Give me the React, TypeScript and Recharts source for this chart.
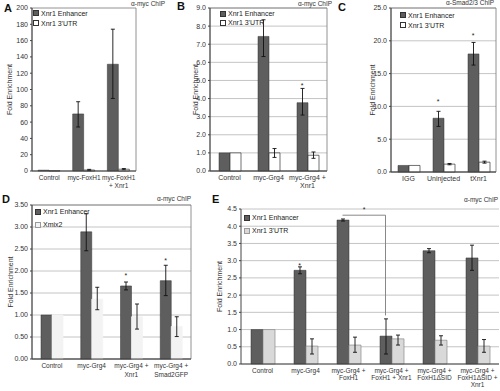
import React from "react";
import {
    BarChart,
    Bar,
    XAxis,
    YAxis,
    CartesianGrid,
    ErrorBar,
    ReferenceArea,
    ReferenceDot,
    ReferenceLine,
} from "recharts";

// ---- panel A: a-myc ChIP, myc-FoxH1 ----
const catsA = ["Control", "myc-FoxH1", "myc-FoxH1\n+ Xnr1"];
const enhA = [1, 70, 131];
const enhErrA: ([number, number] | null)[] = [null, [54, 85], [89, 174]];
const utrA = [0.3, 1.2, 2.2];
const utrErrA: ([number, number] | null)[] = [null, [0.5, 2], [1.5, 3]];
const starsA: (number | null)[] = [null, null, null];
const ticksA = [0, 20, 40, 60, 80, 100, 120, 140, 160, 180, 200];

// ---- panel B: a-myc ChIP, myc-Grg4 ----
const catsB = ["Control", "myc-Grg4", "myc-Grg4 +\nXnr1"];
const enhB = [1, 7.43, 3.77];
const enhErrB: ([number, number] | null)[] = [null, [6.32, 8.35], [3.09, 4.56]];
const utrB = [1, 1.0, 0.87];
const utrErrB: ([number, number] | null)[] = [null, [0.75, 1.24], [0.7, 1.05]];
const starsB: (number | null)[] = [null, null, 4.75];
const ticksB = [0, 1, 2, 3, 4, 5, 6, 7, 8, 9];

// ---- panel C: a-Smad2/3 ChIP ----
const catsC = ["IGG", "Uninjected", "tXnr1"];
const enhC = [1.0, 8.2, 18.0];
const enhErrC: ([number, number] | null)[] = [null, [6.95, 9.25], [16.3, 19.75]];
const utrC = [1.0, 1.2, 1.5];
const utrErrC: ([number, number] | null)[] = [null, [1.1, 1.3], [1.35, 1.65]];
const starsC: (number | null)[] = [null, 10.8, 20.9];
const ticksC = [0, 5, 10, 15, 20, 25];

// ---- panel D: a-myc ChIP, Xmix2 ----
const catsD = ["Control", "myc-Grg4", "myc-Grg4 +\nXnr1", "myc-Grg4 +\nSmad2GFP"];
const enhD = [1.0, 2.89, 1.66, 1.78];
const enhErrD: ([number, number] | null)[] = [null, [2.46, 3.3], [1.57, 1.75], [1.44, 2.13]];
const mixD = [1.0, 1.36, 0.96, 0.74];
const mixErrD: ([number, number] | null)[] = [null, [1.12, 1.63], [0.68, 1.25], [0.51, 0.96]];
const starsD: (number | null)[] = [null, null, 1.91, 2.25];
const ticksD = [0, 0.5, 1, 1.5, 2, 2.5, 3, 3.5];

// ---- panel E: a-myc ChIP, FoxH1 / FoxH1ΔSID ----
const catsE = [
    "Control",
    "myc-Grg4",
    "myc-Grg4 +\nFoxH1",
    "myc-Grg4 +\nFoxH1 + Xnr1",
    "myc-Grg4 +\nFoxH1ΔSID",
    "myc-Grg4 +\nFoxH1ΔSID +\nXnr1",
];
const enhE = [1.0, 2.72, 4.18, 0.81, 3.29, 3.08];
const enhErrE: ([number, number] | null)[] = [null, [2.62, 2.82], [4.15, 4.21], [0.29, 1.31], [3.23, 3.35], [2.72, 3.45]];
const utrE = [1.0, 0.52, 0.55, 0.73, 0.69, 0.52];
const utrErrE: ([number, number] | null)[] = [null, [0.29, 0.73], [0.34, 0.78], [0.55, 0.84], [0.55, 0.82], [0.34, 0.71]];
const starsE: (number | null)[] = [null, 2.87, null, null, null, null];
const ticksE = [0, 0.5, 1, 1.5, 2, 2.5, 3, 3.5, 4, 4.5];
const bracketE = { from: 2, to: 3, top: 4.32, bottom: 1.41 };

const FONT = "'Liberation Sans', Arial, sans-serif";
const DARK = "#5e5e5e";

function buildRows(
    cats: string[],
    a: number[],
    aErr: ([number, number] | null)[],
    b: number[],
    bErr: ([number, number] | null)[]
) {
    return cats.map((c, i) => ({
        cat: c,
        a: a[i],
        aErr: aErr[i] ? [a[i] - aErr[i]![0], aErr[i]![1] - a[i]] : null,
        b: b[i],
        bErr: bErr[i] ? [b[i] - bErr[i]![0], bErr[i]![1] - b[i]] : null,
    }));
}

function MultiTick({ x, y, payload, gap, size }: any) {
    const lines = String(payload.value).split("\n");
    return (
        <text x={x} y={y} textAnchor="middle" fontSize={size} fill="#333" fontFamily={FONT}>
            {lines.map((l, i) => (
                <tspan key={i} x={x} dy={i === 0 ? 7 : gap}>
                    {l}
                </tspan>
            ))}
        </text>
    );
}

interface LegendItem {
    label: string;
    fill: string;
    stroke: string;
}

function LegendBox({ items, lineH, x, y }: { items: LegendItem[]; lineH: number; x: number; y: number }) {
    return (
        <div style={{ position: "absolute", left: x, top: y, fontFamily: FONT, fontSize: 7, color: "#222", whiteSpace: "nowrap" }}>
            {items.map((it) => (
                <div key={it.label} style={{ height: lineH, display: "flex", alignItems: "center" }}>
                    <span
                        style={{
                            display: "inline-block",
                            width: 4,
                            height: 4,
                            background: it.fill,
                            border: `1px solid ${it.stroke}`,
                            marginRight: 2,
                        }}
                    />
                    {it.label}
                </div>
            ))}
        </div>
    );
}

interface PanelProps {
    left: number;
    top: number;
    width: number;
    height: number;
    margin: { top: number; right: number; bottom: number; left: number };
    yWidth: number;
    xHeight: number;
    cats: string[];
    rows: any[];
    ticks: number[];
    digits: number;
    barSize: number;
    stars: (number | null)[];
    frame: boolean;
    grid: boolean;
    fillB: string;
    strokeB: string;
    legend: LegendItem[];
    legendPos: { top: number; left: number };
    legendLineH: number;
    titleOffset: number;
    tickGap: number;
    tickFont: number;
    children?: React.ReactNode;
}

function Panel(p: PanelProps) {
    const max = p.ticks[p.ticks.length - 1];
    return (
        <div style={{ position: "absolute", left: p.left, top: p.top, width: p.width, height: p.height }}>
            <BarChart
                width={p.width}
                height={p.height}
                data={p.rows}
                margin={p.margin}
                barGap={0}
                barSize={p.barSize}
            >
                {p.grid && <CartesianGrid vertical={false} stroke="#b5b5b5" strokeWidth={0.8} />}
                <XAxis
                    dataKey="cat"
                    height={p.xHeight}
                    tickLine={false}
                    tickSize={2}
                    tickMargin={0}
                    interval={0}
                    stroke="#444"
                    tick={<MultiTick gap={p.tickGap} size={p.tickFont} />}
                />
                <YAxis
                    width={p.yWidth}
                    domain={[0, max]}
                    ticks={p.ticks}
                    interval={0}
                    tickSize={2}
                    tickMargin={2}
                    stroke="#444"
                    tick={{ fontSize: 7, fill: "#333", fontFamily: FONT }}
                    tickFormatter={(v) => Number(v).toFixed(p.digits)}
                    label={{
                        value: "Fold Enrichment",
                        angle: -90,
                        position: "insideLeft",
                        offset: p.titleOffset,
                        style: { textAnchor: "middle", fontSize: 7, fill: "#333", fontFamily: FONT },
                    }}
                />
                <Bar dataKey="a" fill={DARK} stroke="#333" strokeWidth={0.5} isAnimationActive={false}>
                    <ErrorBar dataKey="aErr" width={2} stroke="#111" strokeWidth={0.9} />
                </Bar>
                <Bar dataKey="b" fill={p.fillB} stroke={p.strokeB} strokeWidth={0.7} isAnimationActive={false}>
                    <ErrorBar dataKey="bErr" width={2} stroke="#111" strokeWidth={0.9} />
                </Bar>
                {p.frame && (
                    <ReferenceArea y1={0} y2={max} fill="none" stroke="#777" strokeWidth={0.8} />
                )}
                {p.stars.map((s, i) =>
                    s == null ? null : (
                        <ReferenceDot
                            key={i}
                            x={p.cats[i]}
                            y={s}
                            r={0}
                            shape={(d: any) => (
                                <text
                                    x={d.cx - p.barSize / 2}
                                    y={d.cy + 3}
                                    textAnchor="middle"
                                    fontSize={7}
                                    fill="#222"
                                    fontFamily={FONT}
                                >
                                    *
                                </text>
                            )}
                        />
                    )
                )}
                {p.children}
            </BarChart>
            <LegendBox items={p.legend} lineH={p.legendLineH} x={p.legendPos.left} y={p.legendPos.top} />
        </div>
    );
}

function Letter({ x, y, t }: { x: number; y: number; t: string }) {
    return (
        <div style={{ position: "absolute", left: x, top: y, fontFamily: FONT, fontWeight: "bold", fontSize: 11, color: "#111" }}>
            {t}
        </div>
    );
}

function Caption({ x, y, t }: { x: number; y: number; t: string }) {
    return (
        <div style={{ position: "absolute", left: x, top: y, fontFamily: FONT, fontSize: 6.5, color: "#333", whiteSpace: "nowrap" }}>
            {t}
        </div>
    );
}

export default function App() {
    const rowsA = buildRows(catsA, enhA, enhErrA, utrA, utrErrA);
    const rowsB = buildRows(catsB, enhB, enhErrB, utrB, utrErrB);
    const rowsC = buildRows(catsC, enhC, enhErrC, utrC, utrErrC);
    const rowsD = buildRows(catsD, enhD, enhErrD, mixD, mixErrD);
    const rowsE = buildRows(catsE, enhE, enhErrE, utrE, utrErrE);

    const legUtr: LegendItem[] = [
        { label: "Xnr1 Enhancer", fill: DARK, stroke: "#333" },
        { label: "Xnr1 3'UTR", fill: "#fff", stroke: "#333" },
    ];
    const legD: LegendItem[] = [
        { label: "Xnr1 Enhancer", fill: DARK, stroke: "#333" },
        { label: "Xmix2", fill: "#f3f3f3", stroke: "#999" },
    ];
    const legE: LegendItem[] = [
        { label: "Xnr1 Enhancer", fill: DARK, stroke: "#333" },
        { label: "Xnr1 3'UTR", fill: "#d9d9d9", stroke: "#999" },
    ];
    const eBar = 12;

    return (
        <div style={{ position: "absolute", left: 0, top: 0, width: 500, height: 391, background: "#fff", overflow: "hidden" }}>
            <Panel
                left={0} top={0} width={140} height={195}
                margin={{ top: 8, right: 4, bottom: 0, left: 0 }}
                yWidth={32} xHeight={24}
                cats={catsA} rows={rowsA} ticks={ticksA} digits={0} barSize={11}
                stars={starsA} frame grid={false}
                fillB="#fff" strokeB="#333"
                legend={legUtr} legendPos={{ top: 8, left: 33 }} legendLineH={10}
                titleOffset={10} tickGap={8} tickFont={6.5}
            />
            <Panel
                left={165} top={0} width={166} height={195}
                margin={{ top: 8, right: 4, bottom: 0, left: 0 }}
                yWidth={45} xHeight={24}
                cats={catsB} rows={rowsB} ticks={ticksB} digits={1} barSize={11}
                stars={starsB} frame grid
                fillB="#fff" strokeB="#333"
                legend={legUtr} legendPos={{ top: 9, left: 55 }} legendLineH={9}
                titleOffset={31} tickGap={8} tickFont={7}
            />
            <Panel
                left={335} top={0} width={165} height={195}
                margin={{ top: 8, right: 4, bottom: 0, left: 0 }}
                yWidth={56} xHeight={23}
                cats={catsC} rows={rowsC} ticks={ticksC} digits={1} barSize={11}
                stars={starsC} frame grid
                fillB="#fff" strokeB="#333"
                legend={legUtr} legendPos={{ top: 10, left: 65 }} legendLineH={10}
                titleOffset={38} tickGap={8} tickFont={7}
            />
            <Panel
                left={0} top={197} width={195} height={194}
                margin={{ top: 8, right: 4, bottom: 0, left: 0 }}
                yWidth={32} xHeight={32}
                cats={catsD} rows={rowsD} ticks={ticksD} digits={2} barSize={11}
                stars={starsD} frame grid
                fillB="#f3f3f3" strokeB="#f3f3f3"
                legend={legD} legendPos={{ top: 8, left: 35 }} legendLineH={13}
                titleOffset={11} tickGap={9} tickFont={6.5}
            />
            <Panel
                left={213} top={197} width={287} height={194}
                margin={{ top: 12, right: 1, bottom: 0, left: 0 }}
                yWidth={28} xHeight={27}
                cats={catsE} rows={rowsE} ticks={ticksE} digits={1} barSize={eBar}
                stars={starsE} frame={false} grid
                fillB="#d9d9d9" strokeB="#8a8a8a"
                legend={legE} legendPos={{ top: 14, left: 31 }} legendLineH={13}
                titleOffset={7} tickGap={7} tickFont={6.5}
            >
                <ReferenceLine
                    segment={[
                        { x: catsE[bracketE.from], y: bracketE.top },
                        { x: catsE[bracketE.to], y: bracketE.top },
                    ]}
                    shape={(d: any) => (
                        <g>
                            <line x1={d.x1 - eBar / 2} y1={d.y1} x2={d.x2 - eBar / 2} y2={d.y2} stroke="#888" strokeWidth={1} />
                            <text
                                x={(d.x1 + d.x2) / 2 - eBar / 2}
                                y={d.y1 - 3}
                                textAnchor="middle"
                                fontSize={7}
                                fill="#222"
                                fontFamily={FONT}
                            >
                                *
                            </text>
                        </g>
                    )}
                />
                <ReferenceLine
                    segment={[
                        { x: catsE[bracketE.to], y: bracketE.top },
                        { x: catsE[bracketE.to], y: bracketE.bottom },
                    ]}
                    shape={(d: any) => (
                        <line x1={d.x1 - eBar / 2} y1={d.y1} x2={d.x2 - eBar / 2} y2={d.y2} stroke="#888" strokeWidth={1} />
                    )}
                />
            </Panel>
            <Letter x={4} y={2} t="A" />
            <Letter x={177} y={0} t="B" />
            <Letter x={338} y={1} t="C" />
            <Letter x={2} y={193} t="D" />
            <Letter x={212} y={193} t="E" />
            <Caption x={131} y={0} t="α-myc ChIP" />
            <Caption x={298} y={0} t="α-myc ChIP" />
            <Caption x={446} y={-1} t="α-Smad2/3 ChIP" />
            <Caption x={157} y={195} t="α-myc ChIP" />
            <Caption x={464} y={196} t="α-myc ChIP" />
        </div>
    );
}
